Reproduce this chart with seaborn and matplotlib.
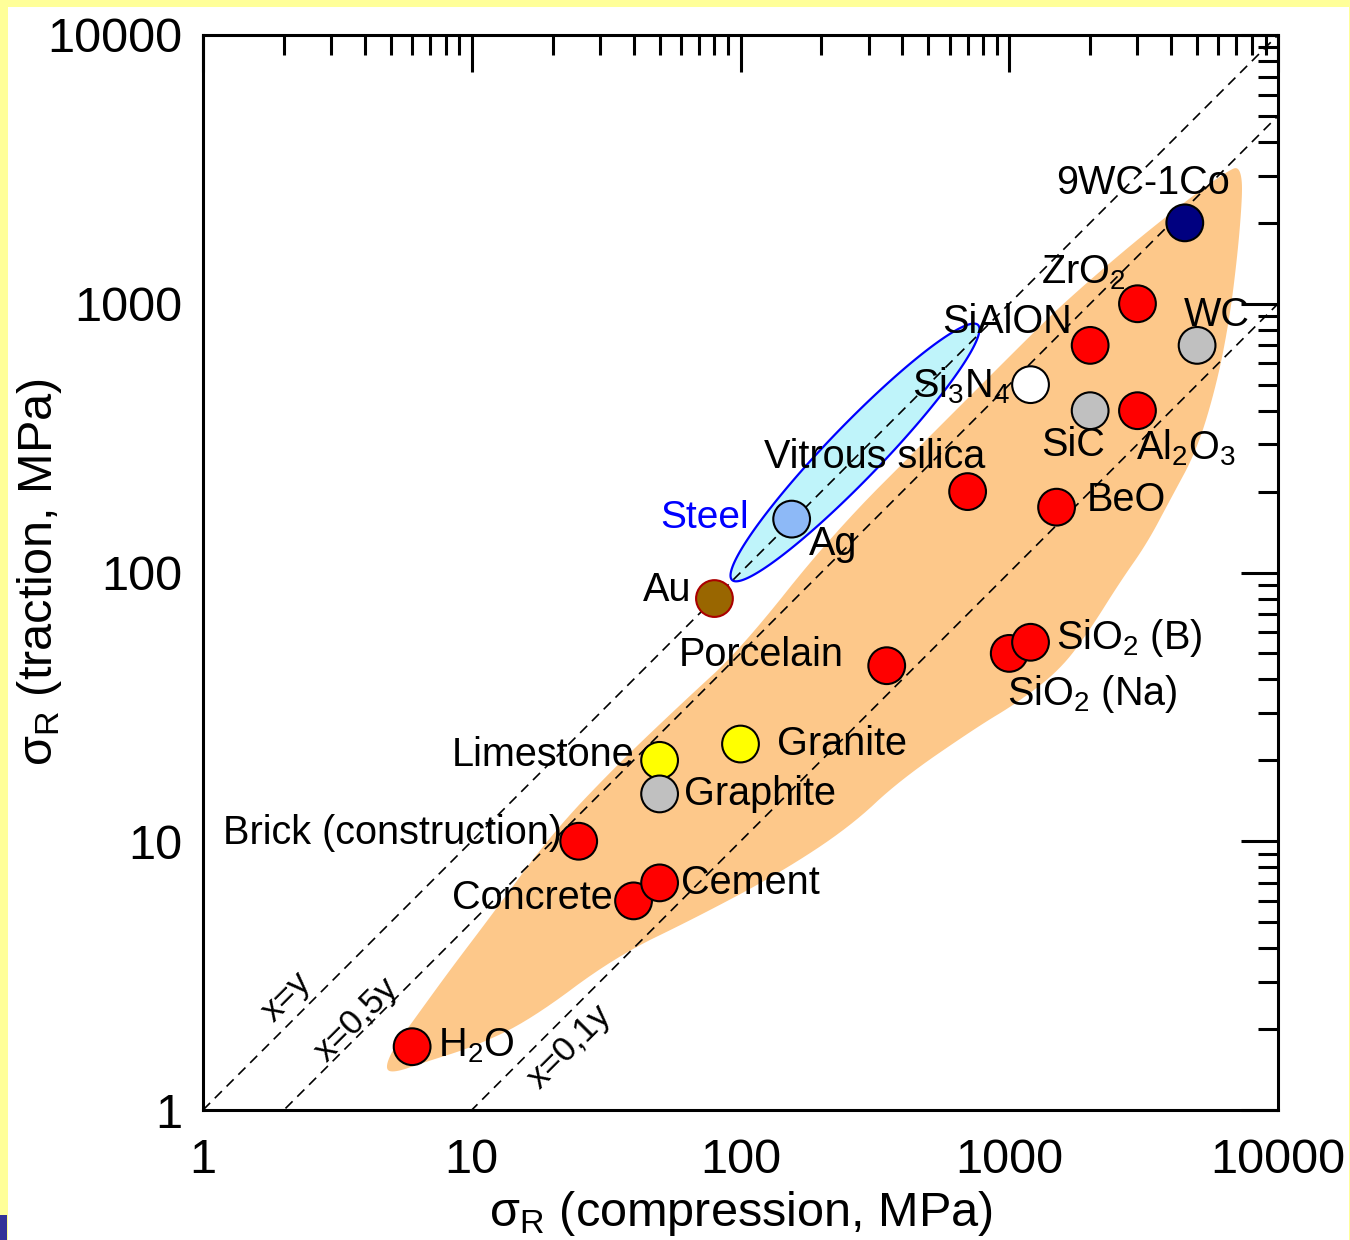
import numpy as np
import pandas as pd
import matplotlib
matplotlib.use("Agg")
import matplotlib.pyplot as plt
from matplotlib.patches import Rectangle
from matplotlib.ticker import LogLocator, FuncFormatter, NullFormatter
import seaborn as sns

# ---------------- data ----------------
materials = ["H$_2$O", "Brick (construction)", "Concrete", "Cement", "Limestone",
             "Graphite", "Granite", "Au", "Ag", "Porcelain", "Vitrous silica",
             "SiO$_2$ (Na)", "SiO$_2$ (B)", "BeO", "Si$_3$N$_4$", "SiC", "Al$_2$O$_3$",
             "SiAlON", "ZrO$_2$", "WC", "9WC-1Co"]
compression = [6, 25, 40, 50, 50, 50, 100, 80, 155, 350, 700,
               1000, 1200, 1500, 1200, 2000, 3000, 2000, 3000, 5000, 4500]
traction = [1.72, 10, 6, 7, 20, 15, 23, 80, 158, 45, 200,
            50, 55, 175, 500, 400, 400, 700, 1000, 700, 2000]
fill_colors = ["#FF0000", "#FF0000", "#FF0000", "#FF0000", "#FFFF00",
               "#C0C0C0", "#FFFF00", "#996600", "#8DB9F7", "#FF0000", "#FF0000",
               "#FF0000", "#FF0000", "#FF0000", "#FFFFFF", "#C0C0C0", "#FF0000",
               "#FF0000", "#FF0000", "#C0C0C0", "#000080"]
edge_colors = ["black"] * 7 + ["#AA0000"] + ["black"] * 13

# label offsets (points) relative to each marker
label_dx = [46, -134, -73, 65, -84, 72, 73, -34, 30, -90, -67,
            60, 71, 50, -50, -12, 35, -60, -39, 14, -30]
label_dy = [1, 6, 2, 0, 4, 0, 0, 6, -18, 8, 25,
            -29, 3, 5, -1, -25, -27, 17, 22, 22, 29]

# reference lines y = k * x
line_ratios = [1.0, 0.5, 0.1]
line_labels = ["x=y", "x=0,5y", "x=0,1y"]
line_label_x = [2.05, 3.74, 23.2]
line_label_y = [2.63, 2.16, 1.72]

# envelope of ceramics (orange region)
envelope_x = [4.75, 5.05, 6.20, 8.30, 11.7, 19.9, 34.1, 62.2, 99.5, 221, 520,
              1225, 1640, 2886, 5130, 6620, 7100, 7345, 7345, 7100, 6620, 5930,
              5000, 3965, 3250, 2583, 1995, 1545, 1069, 758, 392, 255, 140, 68.9,
              34.1, 16.5, 10.2, 6.6, 5.2]
envelope_y = [1.41, 1.67, 2.22, 3.32, 5.22, 10.7, 18.9, 33.5, 51.5, 140, 330,
              778, 1032, 1683, 2650, 3147, 3228, 2937, 2432, 1585, 893, 507,
              286, 186, 128, 92.2, 61.1, 43.4, 32.7, 26.6, 16.9, 11.3, 7.62, 5.22,
              3.71, 2.16, 1.72, 1.50, 1.38]

# metals (steel) ellipse: two ends of its long axis
steel_end_x = [93, 765]
steel_end_y = [93.8, 834]
steel_label_pos = (73.8, 159.5)

df = pd.DataFrame({"material": materials, "compression": compression,
                   "traction": traction})

# ---------------- style ----------------
sns.set_style("white")
plt.rcParams["font.family"] = ["Liberation Sans", "DejaVu Sans"]
plt.rcParams["mathtext.default"] = "regular"
plt.rcParams["text.color"] = "black"
plt.rcParams["axes.labelcolor"] = "black"
plt.rcParams["xtick.color"] = "black"
plt.rcParams["ytick.color"] = "black"

fig = plt.figure(figsize=(13.5, 12.4), dpi=100, facecolor="#FFFF99")
fig.patches.append(Rectangle((8 / 1350, 0), 1341 / 1350, 1233 / 1240,
                             transform=fig.transFigure, facecolor="white",
                             edgecolor="none", zorder=-10))
fig.patches.append(Rectangle((0, 0), 7 / 1350, 25 / 1240,
                             transform=fig.transFigure, facecolor="#333399",
                             edgecolor="none", zorder=-9))

ax = fig.add_axes([203 / 1350, 1 - 1110 / 1240, 1075 / 1350, 1075 / 1240])
ax.set_facecolor("none")
ax.set_xscale("log")
ax.set_yscale("log")
ax.set_xlim(1, 10000)
ax.set_ylim(1, 10000)


def chaikin(px, py, n=3):
    """Corner-cutting smoothing of a closed outline (in log space)."""
    px, py = np.asarray(px, float), np.asarray(py, float)
    for _ in range(n):
        nx, ny = np.roll(px, -1), np.roll(py, -1)
        px = np.column_stack([0.75 * px + 0.25 * nx, 0.25 * px + 0.75 * nx]).ravel()
        py = np.column_stack([0.75 * py + 0.25 * ny, 0.25 * py + 0.75 * ny]).ravel()
    return px, py


sx, sy = chaikin(np.log10(envelope_x), np.log10(envelope_y))
ax.fill(10 ** sx, 10 ** sy, color="#FDC88A", lw=0, zorder=1)

# steel ellipse, drawn in log space
lx = np.log10(steel_end_x)
ly = np.log10(steel_end_y)
cx, cy = lx.mean(), ly.mean()
a = 0.5 * np.hypot(lx[1] - lx[0], ly[1] - ly[0])
b = 0.10
ang = np.arctan2(ly[1] - ly[0], lx[1] - lx[0])
t = np.linspace(0, 2 * np.pi, 300)
ex = cx + a * np.cos(t) * np.cos(ang) - b * np.sin(t) * np.sin(ang)
ey = cy + a * np.cos(t) * np.sin(ang) + b * np.sin(t) * np.cos(ang)
ax.fill(10 ** ex, 10 ** ey, facecolor="#BFF4FA", edgecolor="#0000FF", lw=1.6, zorder=2)

# reference lines
for k in line_ratios:
    ax.plot([1, 10000], [k, 10000 * k], color="black", lw=1.2,
            ls=(0, (6, 4)), zorder=3)
for lab, x, y in zip(line_labels, line_label_x, line_label_y):
    ax.text(x, y, lab, rotation=45, ha="center", va="center", fontsize=25,
            rotation_mode="anchor", zorder=5)

# points
palette = dict(zip(materials, fill_colors))
sns.scatterplot(data=df, x="compression", y="traction", hue="material",
                palette=palette, s=700, legend=False, ax=ax, zorder=4,
                linewidth=1.5, edgecolor="black")
ax.collections[-1].set_edgecolors(edge_colors)

for name, x, y, dx, dy in zip(materials, compression, traction, label_dx, label_dy):
    ax.annotate(name, (x, y), xytext=(dx, dy), textcoords="offset points",
                ha="center", va="center", fontsize=28.5, color="black", zorder=5)

ax.text(*steel_label_pos, "Steel", color="#0000FF", ha="center", va="center",
        fontsize=28, zorder=5)

# axes styling
for sp in ax.spines.values():
    sp.set_linewidth(2.2)
    sp.set_color("black")
ax.xaxis.set_major_locator(LogLocator(base=10, numticks=10))
ax.yaxis.set_major_locator(LogLocator(base=10, numticks=10))
ax.xaxis.set_minor_locator(LogLocator(base=10, subs=np.arange(2, 10), numticks=20))
ax.yaxis.set_minor_locator(LogLocator(base=10, subs=np.arange(2, 10), numticks=20))
fmt = FuncFormatter(lambda v, p: f"{v:g}")
ax.xaxis.set_major_formatter(fmt)
ax.yaxis.set_major_formatter(fmt)
ax.xaxis.set_minor_formatter(NullFormatter())
ax.yaxis.set_minor_formatter(NullFormatter())
ax.tick_params(which="both", direction="in", top=True, right=True, width=2.2,
               colors="black")
ax.tick_params(which="major", length=26.5, labelsize=35)
ax.tick_params(which="minor", length=14.5)
ax.tick_params(axis="x", which="major", pad=20)
ax.tick_params(axis="y", which="major", pad=15)

ax.set_xlabel("σ$_R$ (compression, MPa)", fontsize=35)
ax.set_ylabel("σ$_R$ (traction, MPa)", fontsize=35)
ax.xaxis.set_label_coords(0.5, -0.096)
ax.xaxis.label.set_va("center")
ax.yaxis.set_label_coords(-0.152, 0.5)
ax.yaxis.label.set_va("center")

fig.savefig("out.png", dpi=100, facecolor=fig.get_facecolor())
